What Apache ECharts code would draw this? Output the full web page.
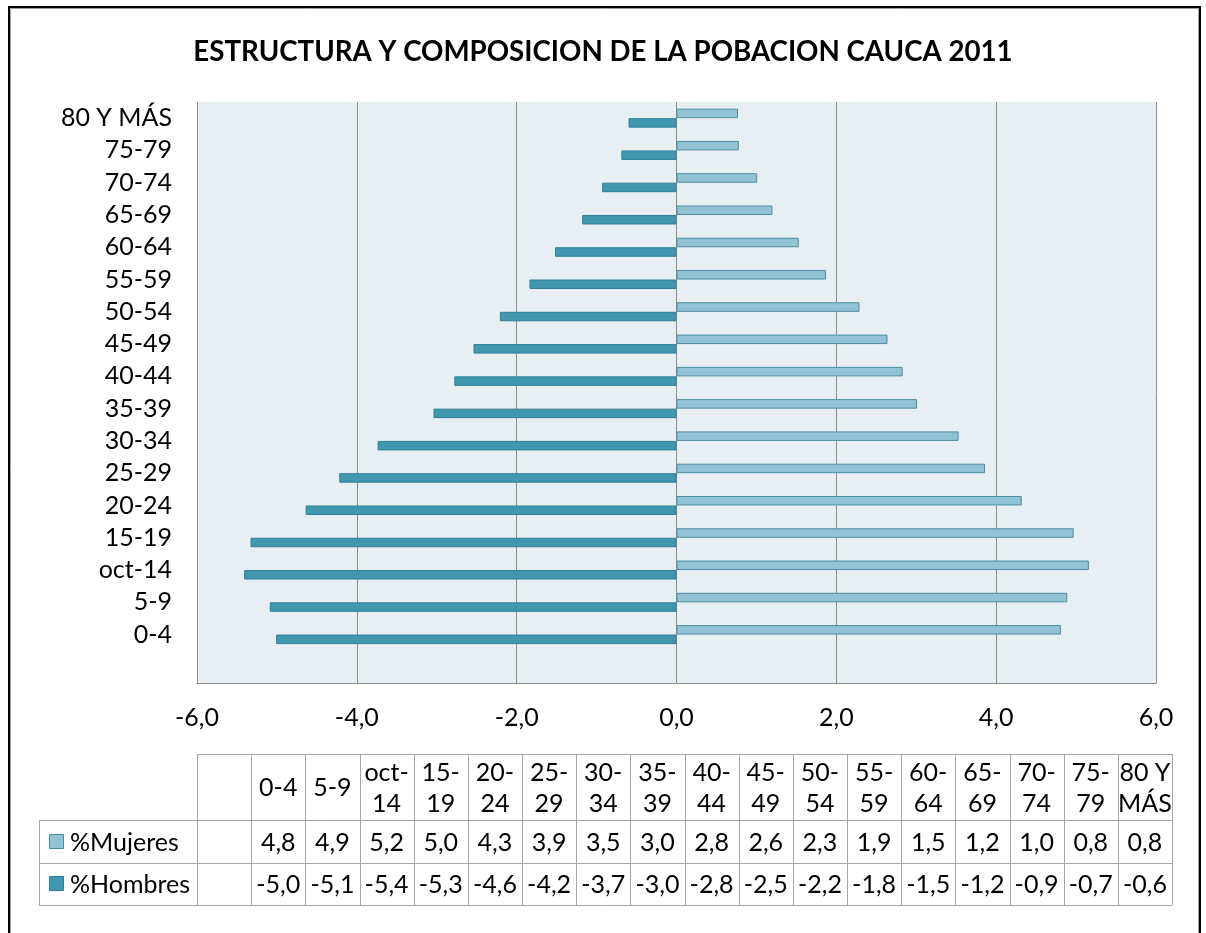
<!DOCTYPE html>
<html>
<head>
<meta charset="utf-8">
<script src="https://cdn.jsdelivr.net/npm/echarts@6/dist/echarts.min.js"></script>
<style>
  html, body { margin: 0; padding: 0; background: #fff; }
  #chart { width: 1206px; height: 933px; }
</style>
</head>
<body>
<div id="chart"></div>
<script>
// ---- data ----
const titleText = 'ESTRUCTURA Y COMPOSICION DE LA POBACION CAUCA 2011';
const categories = ['', '0-4', '5-9', 'oct-14', '15-19', '20-24', '25-29', '30-34', '35-39', '40-44', '45-49', '50-54', '55-59', '60-64', '65-69', '70-74', '75-79', '80 Y MÁS'];
const mujeres = [null, 4.81, 4.89, 5.16, 4.97, 4.32, 3.86, 3.53, 3.01, 2.83, 2.64, 2.29, 1.87, 1.53, 1.20, 1.01, 0.78, 0.77];
const hombres = [null, -5.01, -5.09, -5.41, -5.33, -4.64, -4.22, -3.74, -3.04, -2.78, -2.54, -2.21, -1.84, -1.52, -1.18, -0.93, -0.69, -0.60];
const seriesNames = ['%Mujeres', '%Hombres'];
const xMin = -6, xMax = 6, xStep = 2;

// ---- style ----
const FONT = 'Lato';
const FS = 25;
const colMuj = '#92c3d5', bordMuj = '#4b8da2';
const colHom = '#4197b0', bordHom = '#2f7f96';
const gridCol = '#8c8c8c';
const tblCol = '#a6a6a6';

function fmt(v) { return v == null ? '' : v.toFixed(1).replace('.', ','); }
function wrap(c) {
  if (c.indexOf(' ') > 0) { const i = c.lastIndexOf(' '); return c.slice(0, i) + '\n' + c.slice(i + 1); }
  if (c.length > 3 && c.indexOf('-') > 0) { const i = c.indexOf('-'); return c.slice(0, i + 1) + '\n' + c.slice(i + 1); }
  return c;
}

// ---- data table (graphic) ----
const tLeft = 39, tColStart = 197, tRight = 1172;
const rowY = [754, 820, 863, 905];
const colW = (tRight - tColStart) / categories.length;
const tbl = [];
function line(x1, y1, x2, y2) {
  tbl.push({ type: 'line', shape: { x1: x1, y1: y1, x2: x2, y2: y2 }, style: { stroke: tblCol, lineWidth: 1 }, silent: true });
}
function txt(t, x, y, align) {
  tbl.push({ type: 'text', style: { text: t, x: x, y: y, align: align || 'center', verticalAlign: 'middle', fontSize: FS, fontFamily: FONT, fill: '#000', lineHeight: 31 }, silent: true });
}
line(tColStart, rowY[0] + 0.5, tRight, rowY[0] + 0.5);
for (let r = 1; r < rowY.length; r++) line(tLeft, rowY[r] + 0.5, tRight, rowY[r] + 0.5);
line(tLeft + 0.5, rowY[1], tLeft + 0.5, rowY[3]);
for (let i = 0; i <= categories.length; i++) {
  const x = Math.round(tColStart + i * colW) + 0.5;
  line(x, rowY[0], x, rowY[3]);
}
const rowsData = [mujeres, hombres];
const keyCols = [[colMuj, bordMuj], [colHom, bordHom]];
for (let i = 0; i < categories.length; i++) {
  const cx = tColStart + (i + 0.5) * colW;
  txt(wrap(categories[i]), cx, (rowY[0] + rowY[1]) / 2 + 1);
  for (let r = 0; r < 2; r++) txt(fmt(rowsData[r][i]), cx, (rowY[r + 1] + rowY[r + 2]) / 2 + 1);
}
for (let r = 0; r < 2; r++) {
  const cy = (rowY[r + 1] + rowY[r + 2]) / 2;
  tbl.push({ type: 'rect', shape: { x: 49.5, y: Math.round(cy) - 7.5, width: 14, height: 14 }, style: { fill: keyCols[r][0], stroke: keyCols[r][1], lineWidth: 1 }, silent: true });
  txt(seriesNames[r], 70, cy + 1, 'left');
}
// outer frame
tbl.push({ type: 'rect', shape: { x: 9, y: 7, width: 1191, height: 1000 }, style: { fill: 'none', stroke: '#000', lineWidth: 2 }, silent: true });
tbl.push({ type: 'rect', shape: { x: 10.5, y: 8.5, width: 1188, height: 1000 }, style: { fill: 'none', stroke: '#a0a0a0', lineWidth: 1 }, silent: true });

const chart = echarts.init(document.getElementById('chart'), null, { renderer: 'canvas' });
chart.setOption({
  animation: false,
  backgroundColor: '#fff',
  title: {
    text: titleText, left: 'center', top: 33,
    textStyle: { fontFamily: FONT, fontSize: 27.7, fontWeight: 'bold', color: '#000' }
  },
  grid: {
    left: 197, right: 50, top: 102, bottom: 250,
    show: true, backgroundColor: '#e8eff3', borderWidth: 0
  },
  xAxis: {
    type: 'value', min: xMin, max: xMax, interval: xStep,
    axisLine: { show: true, lineStyle: { color: gridCol, width: 1 } },
    axisTick: { show: false },
    splitLine: { show: true, lineStyle: { color: gridCol, width: 1 } },
    axisLabel: { formatter: function (v) { return fmt(v); }, fontFamily: FONT, fontSize: FS, color: '#000', margin: 22 }
  },
  yAxis: {
    type: 'category', data: categories,
    axisLine: { show: false }, axisTick: { show: false },
    axisLabel: { interval: 0, fontFamily: FONT, fontSize: FS, color: '#000', margin: 25 }
  },
  series: [
    { name: seriesNames[0], type: 'bar', data: mujeres, barWidth: 9.5, barGap: '0%',
      itemStyle: { color: colMuj, borderColor: bordMuj, borderWidth: 1 } },
    { name: seriesNames[1], type: 'bar', data: hombres, barWidth: 9.5, barGap: '0%',
      itemStyle: { color: colHom, borderColor: bordHom, borderWidth: 1 } }
  ],
  graphic: tbl
});
</script>
</body>
</html>
